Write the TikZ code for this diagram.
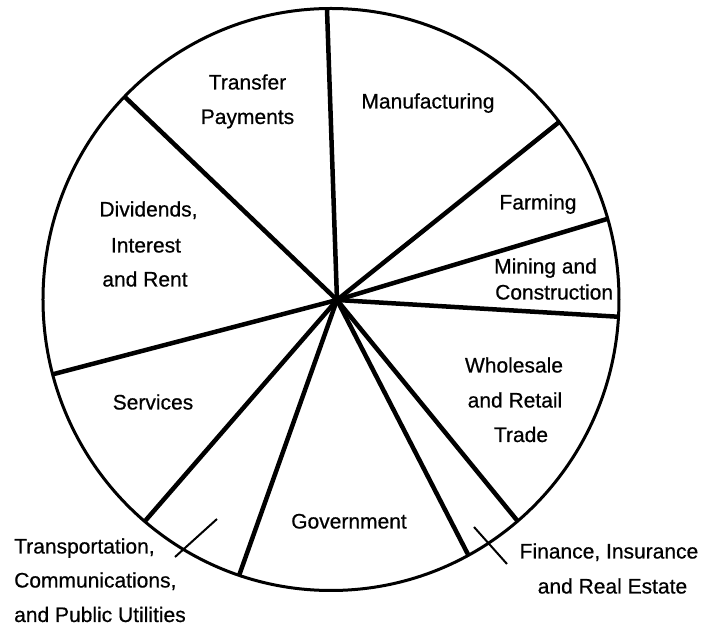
\documentclass[tikz,border=0pt]{standalone}
\usepackage{fontspec}
\setmainfont{Liberation Sans}
\newfontfamily\lblfont{Liberation Sans}[FakeBold=0.6]
\begin{document}
\begin{tikzpicture}[x=1pt,y=1pt,
  lbl/.style={inner sep=0pt, text height=15pt, text depth=0pt, font=\lblfont\fontsize{21}{25}\selectfont},
  rim/.style={line width=3pt},
  spoke/.style={line width=4.5pt},
  leader/.style={line width=2pt}]
\useasboundingbox (-331,-331.5) rectangle (371,299.5);
\coordinate (C) at (0,0);
\coordinate (H) at (6,-0.5);
\foreach \n/\a in {e1/90.8, e2/135.8, e3/37.6, e4/16.1, e5/-3.4, e6/-49.6, e7/-61.5, e8/-108.6, e9/-130.3, e10/-165.1}
  \coordinate (\n) at (\a:288 and 291);
\foreach \n in {e1,e2,e3,e4,e5,e6,e7,e8,e9,e10}
  \draw[spoke] (H) -- (\n);
\draw[rim] (C) ellipse [x radius=288, y radius=291];
% leader ticks
\coordinate (t1a) at (-114,-219.5);
\coordinate (t1b) at (-156,-257.5);
\coordinate (t2a) at (143,-227.5);
\coordinate (t2b) at (176,-264.5);
\draw[leader] (t1a) -- (t1b);
\draw[leader] (t2a) -- (t2b);
% labels
\node[lbl] (tp1) at (-83.5,217.5) {Transfer};
\node[lbl] (tp2) at (-83.5,183) {Payments};
\node[lbl] (man) at (97,198.5) {Manufacturing};
\node[lbl] (farm) at (207,97.5) {Farming};
\node[lbl,anchor=west] (min1) at (163,33.5) {Mining and};
\node[lbl,anchor=west] (min2) at (164,7.5) {Construction};
\node[lbl] (div1) at (-182.5,90.5) {Dividends,};
\node[lbl] (div2) at (-185,54.5) {Interest};
\node[lbl] (div3) at (-186,20.5) {and Rent};
\node[lbl] (wh1) at (183,-65.5) {Wholesale};
\node[lbl] (wh2) at (184,-100.5) {and Retail};
\node[lbl] (wh3) at (190,-135) {Trade};
\node[lbl] (serv) at (-178,-102.5) {Services};
\node[lbl] (gov) at (18,-221.5) {Government};
\node[lbl,anchor=west] (tr1) at (-317,-246.5) {Transportation,};
\node[lbl,anchor=west] (tr2) at (-317,-280.5) {Communications,};
\node[lbl,anchor=west] (tr3) at (-317,-315) {and Public Utilities};
\node[lbl] (fin1) at (278,-251.5) {Finance, Insurance};
\node[lbl] (fin2) at (281.5,-286.5) {and Real Estate};
\end{tikzpicture}
\end{document}
